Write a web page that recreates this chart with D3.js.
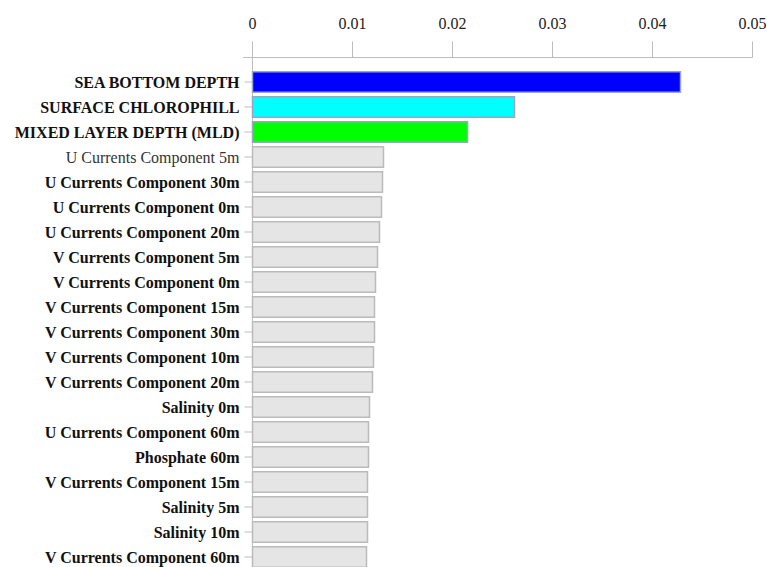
<!DOCTYPE html>
<html>
<head>
<meta charset="utf-8">
<script src="https://cdn.jsdelivr.net/npm/d3@7"></script>
<style>
  html, body { margin: 0; padding: 0; background: #fff; }
  svg { display: block; }
</style>
</head>
<body>
<svg id="chart" width="767" height="567"></svg>
<script>
// Variable importance, ranked
const variables = [
  "SEA BOTTOM DEPTH",
  "SURFACE CHLOROPHILL",
  "MIXED LAYER DEPTH (MLD)",
  "U Currents Component 5m",
  "U Currents Component 30m",
  "U Currents Component 0m",
  "U Currents Component 20m",
  "V Currents Component 5m",
  "V Currents Component 0m",
  "V Currents Component 15m",
  "V Currents Component 30m",
  "V Currents Component 10m",
  "V Currents Component 20m",
  "Salinity 0m",
  "U Currents Component 60m",
  "Phosphate 60m",
  "V Currents Component 15m",
  "Salinity 5m",
  "Salinity 10m",
  "V Currents Component 60m"
];
const importance = [
  0.0428, 0.0262, 0.0215, 0.0131, 0.0130, 0.0129, 0.0127, 0.0125, 0.0123, 0.0122,
  0.0122, 0.0121, 0.0120, 0.0117, 0.0116, 0.0116, 0.0115, 0.0115, 0.0115, 0.0114
];
const barColors = ["#0000ff", "#00ffff", "#00ff00"];
const otherColor = "#e5e5e5";
const xTicks = [0, 0.01, 0.02, 0.03, 0.04, 0.05];
const tickLabels = ["0", "0.01", "0.02", "0.03", "0.04", "0.05"];

const rows = variables.map((name, i) => ({ i, name, value: importance[i] }));

const svg = d3.select("#chart");
const serif = "'Liberation Serif', 'Times New Roman', Times, serif";

const x = d3.scaleLinear().domain([0, 0.05]).range([252, 752]);
const y = d3.scaleBand()
  .domain(rows.map(d => d.i))
  .range([69.5, 569.5])
  .paddingInner(0.18)
  .paddingOuter(0.09);

// top value axis
const xAxis = svg.append("g")
  .attr("transform", "translate(0,57.5)")
  .call(d3.axisTop(x).tickValues(xTicks).tickFormat((d, i) => tickLabels[i])
    .tickSize(16).tickSizeOuter(0).tickPadding(13));
xAxis.attr("font-family", serif).attr("font-size", 16);
xAxis.select(".domain").remove();
xAxis.append("line")
  .attr("x1", 243).attr("x2", 752.5)
  .attr("stroke", "#bdbdbd").attr("stroke-width", 1);
xAxis.selectAll(".tick line").attr("stroke", "#bdbdbd");
xAxis.selectAll(".tick text").attr("fill", "#222");

// left category axis
const yAxis = svg.append("g")
  .attr("transform", "translate(252.5,0)")
  .call(d3.axisLeft(y).tickFormat(i => variables[i]).tickSize(8).tickSizeOuter(0).tickPadding(5));
yAxis.attr("font-family", serif).attr("font-size", 16);
yAxis.select(".domain").remove();
yAxis.append("line")
  .attr("y1", 42).attr("y2", 567)
  .attr("stroke", "#bdbdbd").attr("stroke-width", 1);
yAxis.selectAll(".tick line").attr("stroke", "#bdbdbd");
yAxis.selectAll(".tick text")
  .attr("dy", "0.4em")
  .attr("font-weight", i => i === 3 ? "normal" : "bold")
  .attr("fill", i => i === 3 ? "#333" : "#111");

// bars
svg.append("g")
  .selectAll("rect")
  .data(rows)
  .join("rect")
  .attr("x", x(0) + 0.5)
  .attr("y", d => y(d.i))
  .attr("width", d => x(d.value) - x(0))
  .attr("height", y.bandwidth())
  .attr("fill", d => d.i < 3 ? barColors[d.i] : otherColor)
  .attr("stroke", d => d.i < 3 ? "#9aa6c8" : "#bbbbbb")
  .attr("stroke-width", 1.5);
</script>
</body>
</html>
